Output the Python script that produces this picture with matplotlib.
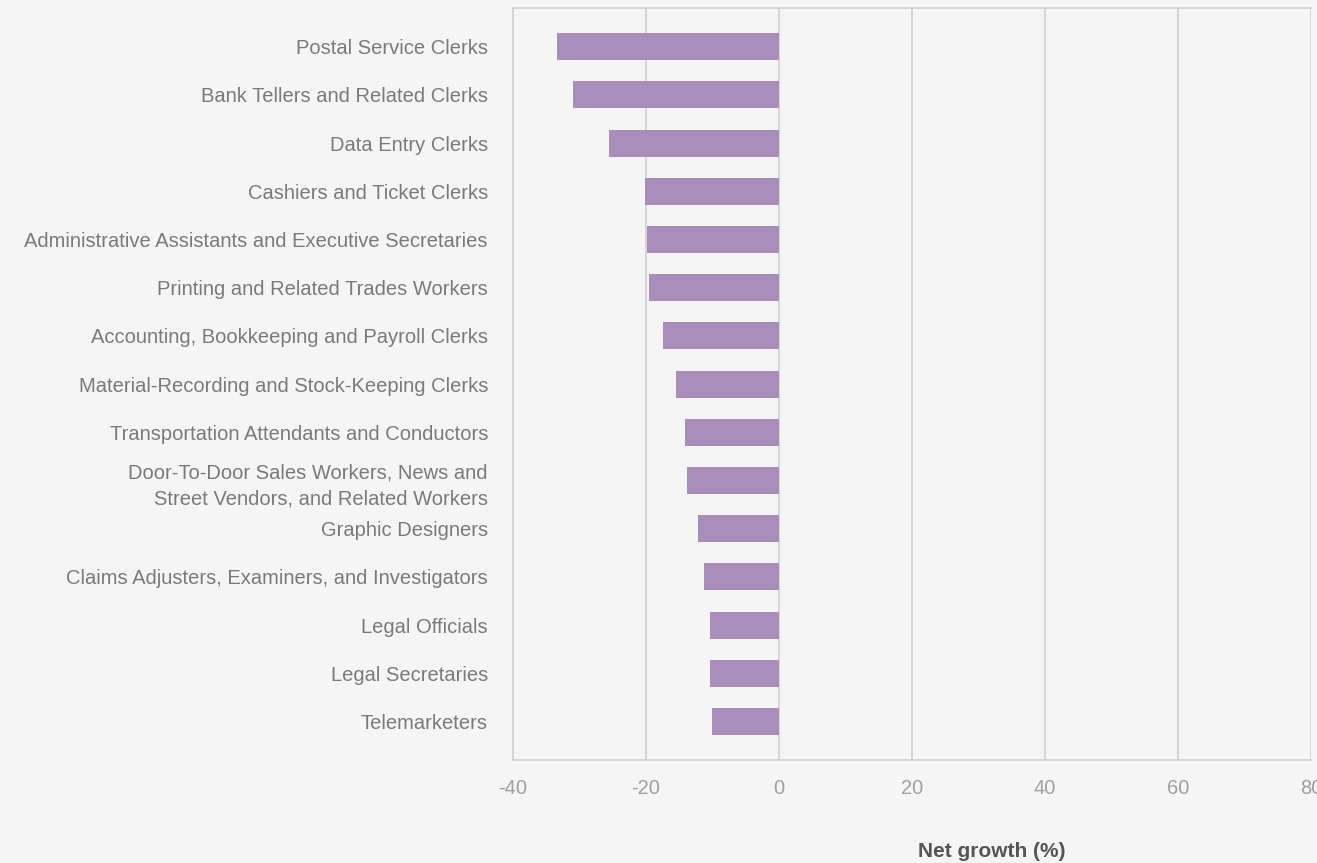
import matplotlib
matplotlib.use("Agg")
import matplotlib.pyplot as plt

categories = [
    "Postal Service Clerks",
    "Bank Tellers and Related Clerks",
    "Data Entry Clerks",
    "Cashiers and Ticket Clerks",
    "Administrative Assistants and Executive Secretaries",
    "Printing and Related Trades Workers",
    "Accounting, Bookkeeping and Payroll Clerks",
    "Material-Recording and Stock-Keeping Clerks",
    "Transportation Attendants and Conductors",
    "Door-To-Door Sales Workers, News and\nStreet Vendors, and Related Workers",
    "Graphic Designers",
    "Claims Adjusters, Examiners, and Investigators",
    "Legal Officials",
    "Legal Secretaries",
    "Telemarketers",
]
net_growth = [-33.4, -30.9, -25.6, -20.2, -19.8, -19.5, -17.5, -15.5,
              -14.2, -13.9, -12.1, -11.2, -10.3, -10.3, -10.1]
xticks = [-40, -20, 0, 20, 40, 60, 80]

bg = "#f5f5f5"
fig = plt.figure(figsize=(13.17, 8.63), dpi=100, facecolor=bg)
ax = fig.add_axes([0.3895, 0.1193, 0.6059, 0.8714])
ax.set_facecolor(bg)

ypos = list(range(len(categories)))
ax.barh(ypos, net_growth, height=0.56, color="#a98dba", zorder=3)

ax.set_xlim(-40, 80)
ax.set_ylim(len(categories) - 0.2, -0.8)
ax.set_xticks(xticks)
ax.set_xticklabels([str(t) for t in xticks], fontsize=14.5, color="#a0a0a0",
                   family="Liberation Sans")
ax.set_yticks(ypos)
ax.set_yticklabels(categories, fontsize=14.5, color="#7a7a7a",
                   family="Liberation Sans", linespacing=1.45)
ax.tick_params(axis="x", length=0, pad=14)
ax.tick_params(axis="y", length=0, pad=18)

ax.grid(axis="x", color="#d0d0d0", linewidth=1.2, zorder=1)
for s in ["left", "bottom", "top", "right"]:
    ax.spines[s].set_color("#d0d0d0")
    ax.spines[s].set_linewidth(1.2)
ax.spines["right"].set_visible(False)

fig.text(992 / 1317, 1 - 851 / 863, "Net growth (%)", ha="center", va="center",
         fontsize=15, fontweight="bold", color="#555555", family="Liberation Sans")

fig.savefig("out.png", dpi=100, facecolor=bg)
